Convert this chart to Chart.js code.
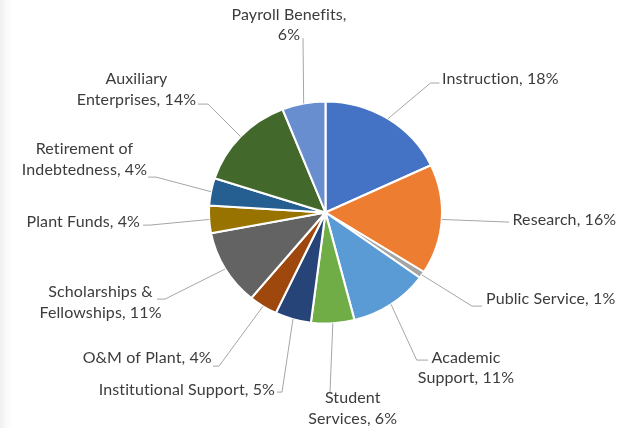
<!DOCTYPE html>
<html>
<head>
<meta charset="utf-8">
<script src="https://cdn.jsdelivr.net/npm/chart.js@4.4.0/dist/chart.umd.min.js"></script>
<style>
  html, body { margin: 0; padding: 0; }
  body { background: linear-gradient(to right, #efefef 0px, #fafafa 6px, #ffffff 12px); }
  #budget { display: block; }
</style>
</head>
<body>
<canvas id="budget" width="623" height="428"></canvas>
<script>
const categories = ['Instruction', 'Research', 'Public Service', 'Academic Support', 'Student Services',
    'Institutional Support', 'O&M of Plant', 'Scholarships & Fellowships', 'Plant Funds',
    'Retirement of Indebtedness', 'Auxiliary Enterprises', 'Payroll Benefits'];
const shares = [18, 16, 1, 11, 6, 5, 4, 11, 4, 4, 14, 6];
const sliceColors = ['#4472C4', '#ED7D31', '#A5A5A5', '#5B9BD5', '#70AD47', '#264478',
    '#9E480E', '#636363', '#997300', '#255E91', '#43682B', '#698ED0'];

// where each label sits, relative to the pie centre
// x/y = text anchor (first baseline), end/elbow = leader line points
const labelLayout = [
    { align: 'left',   x: 116.5, y: -128.5, wrap: 400, end: [114, -129.5], elbow: [105, -129.5] },
    { align: 'left',   x: 187,   y: 12.5,   wrap: 400, end: [183.5, 9.6] },
    { align: 'left',   x: 160.5, y: 91,     wrap: 400, end: [156.5, 93.6], elbow: [146.5, 93.6] },
    { align: 'center', x: 140.5, y: 150.3,  wrap: 105, end: [102.5, 147.6], elbow: [91.2, 147.6] },
    { align: 'center', x: 27.2,  y: 190.6,  wrap: 100, end: [4.5, 179.6] },
    { align: 'right',  x: -50.5, y: 182.6,  wrap: 400, end: [-48.5, 179.6], elbow: [-43.5, 179.6] },
    { align: 'right',  x: -113.8, y: 150.6, wrap: 400, end: [-112.5, 153.6], elbow: [-106.5, 153.6] },
    { align: 'center', x: -225,  y: 84.6,   wrap: 135, end: [-168.5, 86.6], elbow: [-160.5, 86.6] },
    { align: 'right',  x: -185.5, y: 14.3,  wrap: 400, end: [-182.5, 12.6], elbow: [-175.5, 12.6] },
    { align: 'center', x: -241,  y: -58.4,  wrap: 135, end: [-177.5, -35.4], elbow: [-169.5, -35.4] },
    { align: 'center', x: -189,  y: -128.4, wrap: 130, end: [-127.5, -108.4], elbow: [-117.5, -108.4] },
    { align: 'center', x: -36.5, y: -192.9, wrap: 128, end: [-22.5, -174.4] }
];

const STRETCH = 1.05;   // pie is a little wider than tall
const LINE_H = 20.5;

function wrapText(ctx, text, maxW) {
    const words = text.split(' ');
    const lines = [];
    let cur = '';
    words.forEach(w => {
        const t = cur ? cur + ' ' + w : w;
        if (cur && ctx.measureText(t).width > maxW) {
            lines.push(cur);
            cur = w;
        } else {
            cur = t;
        }
    });
    lines.push(cur);
    return lines;
}

const ovalPie = {
    id: 'ovalPie',
    beforeDatasetsDraw(chart) {
        const arc = chart.getDatasetMeta(0).data[0];
        const ctx = chart.ctx;
        ctx.save();
        ctx.translate(arc.x, arc.y);
        ctx.scale(STRETCH, 1);
        ctx.translate(-arc.x, -arc.y);
    },
    afterDatasetsDraw(chart) {
        chart.ctx.restore();
    }
};

const outsideLabels = {
    id: 'outsideLabels',
    afterDraw(chart) {
        const ctx = chart.ctx;
        const arcs = chart.getDatasetMeta(0).data;
        ctx.save();
        ctx.font = '16px Lato';
        ctx.letterSpacing = '0.1px';   // also stops the "ti" ligature
        ctx.textBaseline = 'alphabetic';
        arcs.forEach((arc, i) => {
            const lay = labelLayout[i];
            const cx = arc.x, cy = arc.y;
            const mid = (arc.startAngle + arc.endAngle) / 2;
            const sx = cx + Math.cos(mid) * arc.outerRadius * STRETCH;
            const sy = cy + Math.sin(mid) * arc.outerRadius;

            ctx.strokeStyle = '#a6a6a6';
            ctx.lineWidth = 1;
            ctx.beginPath();
            ctx.moveTo(sx, sy);
            if (lay.elbow) ctx.lineTo(cx + lay.elbow[0], cy + lay.elbow[1]);
            ctx.lineTo(cx + lay.end[0], cy + lay.end[1]);
            ctx.stroke();

            const text = categories[i] + ', ' + shares[i] + '%';
            const lines = wrapText(ctx, text, lay.wrap);
            ctx.fillStyle = '#3c3c3c';
            ctx.textAlign = lay.align;
            lines.forEach((ln, k) => {
                ctx.fillText(ln, cx + lay.x, cy + lay.y + k * LINE_H);
            });
        });
        ctx.restore();
    }
};

new Chart(document.getElementById('budget'), {
    type: 'pie',
    data: {
        labels: categories,
        datasets: [{
            data: shares,
            backgroundColor: sliceColors,
            borderColor: '#ffffff',
            borderWidth: 2
        }]
    },
    options: {
        responsive: false,
        animation: false,
        radius: 111,
        layout: { padding: { left: 28, right: 0, top: 0, bottom: 3 } },
        plugins: {
            legend: { display: false },
            tooltip: { enabled: false }
        }
    },
    plugins: [ovalPie, outsideLabels]
});
</script>
</body>
</html>
